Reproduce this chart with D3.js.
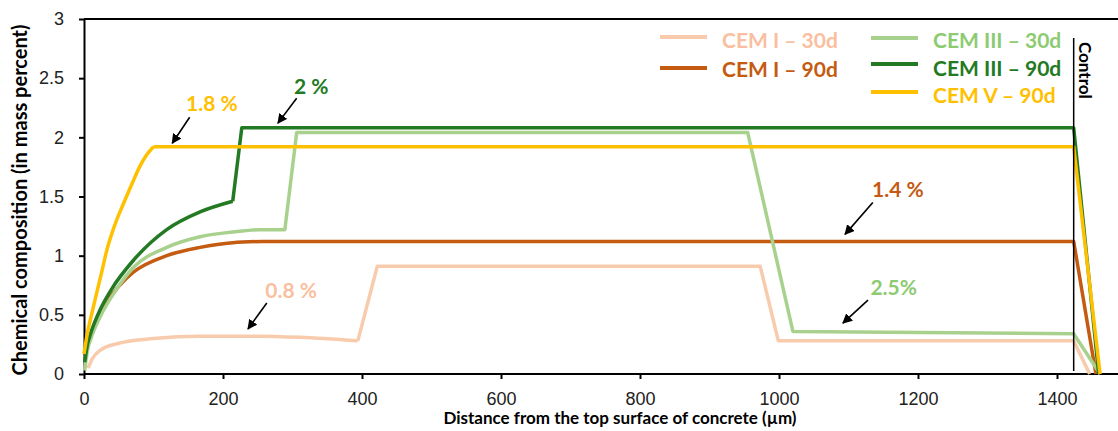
<!DOCTYPE html>
<html>
<head>
<meta charset="utf-8">
<script src="https://cdn.jsdelivr.net/npm/d3@7/dist/d3.min.js"></script>
<style>
  html, body { margin: 0; padding: 0; background: #fff; }
  svg { display: block; }
</style>
</head>
<body>
<svg id="chart" width="1118" height="431"></svg>
<script>
// ---------- DATA ----------
const xTicks = [0, 200, 400, 600, 800, 1000, 1200, 1400];
const yTicks = [0, 0.5, 1, 1.5, 2, 2.5, 3];

const seriesNames = ["CEM I – 30d", "CEM I – 90d", "CEM III – 30d", "CEM III – 90d", "CEM V – 90d"];

// rising (curved) part of each profile: depth (µm) and value
const cem1_30_curveX = [6, 12, 23, 50, 100, 167, 250, 311, 394];
const cem1_30_curveY = [0.05, 0.13, 0.2, 0.26, 0.3, 0.32, 0.32, 0.31, 0.28];
const cem1_30_lineX  = [394, 422, 973, 999, 1424, 1447];
const cem1_30_lineY  = [0.28, 0.91, 0.91, 0.28, 0.28, 0];

const cem1_90_curveX = [2, 8, 15, 23, 50, 71, 119, 167, 214, 256];
const cem1_90_curveY = [0.16, 0.3, 0.42, 0.52, 0.74, 0.86, 1.0, 1.07, 1.11, 1.12];
const cem1_90_lineX  = [256, 1424, 1456];
const cem1_90_lineY  = [1.12, 1.12, 0];

const cem3_30_curveX = [1, 5, 10, 23, 45, 71, 119, 167, 214, 250];
const cem3_30_curveY = [0.03, 0.2, 0.3, 0.48, 0.7, 0.9, 1.07, 1.16, 1.2, 1.22];
const cem3_30_lineX  = [250, 289, 306, 955, 1020, 1424, 1462];
const cem3_30_lineY  = [1.22, 1.22, 2.04, 2.04, 0.36, 0.34, 0];

const cem3_90_curveX = [1, 5, 10, 23, 40, 71, 119, 167, 214];
const cem3_90_curveY = [0.1, 0.25, 0.35, 0.54, 0.72, 0.96, 1.22, 1.37, 1.46];
const cem3_90_lineX  = [214, 227, 1424, 1460];
const cem3_90_lineY  = [1.46, 2.08, 2.08, 0];

const cem5_90_curveX = [0, 5, 10, 16, 25, 33, 45, 59, 70, 80, 90, 100];
const cem5_90_curveY = [0.17, 0.35, 0.48, 0.63, 0.85, 1.05, 1.27, 1.47, 1.62, 1.75, 1.85, 1.92];
const cem5_90_lineX  = [100, 1424, 1462];
const cem5_90_lineY  = [1.92, 1.92, 0];

const controlDepth = 1424;

// annotations: label, text position, arrow start, arrow end (data units)
const annoLabels = ["1.8 %", "2 %", "0.8 %", "1.4 %", "2.5%"];
const annoTextX  = [184, 327, 298, 1171, 1165];
const annoTextY  = [2.29, 2.43, 0.71, 1.56, 0.735];
const annoFromX  = [152, 306, 263, 1135, 1128];
const annoFromY  = [2.17, 2.33, 0.60, 1.45, 0.625];
const annoToX    = [127, 279, 236, 1095, 1092];
const annoToY    = [1.95, 2.12, 0.38, 1.18, 0.43];
const annoSeries = [4, 3, 0, 1, 2];

// ---------- STYLE ----------
const lineColors = ["#F8CBAD", "#C55A11", "#A9D18E", "#237A23", "#FFC000"];
const textColors = ["#F9BFA0", "#C55A11", "#8DCB72", "#237A23", "#FFC000"];
const curveXs = [cem1_30_curveX, cem1_90_curveX, cem3_30_curveX, cem3_90_curveX, cem5_90_curveX];
const curveYs = [cem1_30_curveY, cem1_90_curveY, cem3_30_curveY, cem3_90_curveY, cem5_90_curveY];
const lineXs  = [cem1_30_lineX, cem1_90_lineX, cem3_30_lineX, cem3_90_lineX, cem5_90_lineX];
const lineYs  = [cem1_30_lineY, cem1_90_lineY, cem3_30_lineY, cem3_90_lineY, cem5_90_lineY];

const svg = d3.select("#chart");
const mLeft = 84, mTop = 19, mBottom = 374;
const x = d3.scaleLinear().domain([0, 1500]).range([mLeft, mLeft + 1500 * 0.695]);
const y = d3.scaleLinear().domain([0, 3]).range([mBottom, mTop]);

const tickFont = "'Liberation Sans', Arial, sans-serif";
const boldFont = "Lato, 'Open Sans', sans-serif";

// top border
svg.append("line")
  .attr("x1", x(0)).attr("x2", 1118)
  .attr("y1", y(3)).attr("y2", y(3))
  .attr("stroke", "#000").attr("stroke-width", 2);

// axes
const yAxis = d3.axisLeft(y).tickValues(yTicks).tickFormat(d3.format("")).tickSize(5).tickSizeOuter(0).tickPadding(15);
const xAxis = d3.axisBottom(x).tickValues(xTicks).tickFormat(d3.format("")).tickSize(5).tickSizeOuter(0).tickPadding(13);

const gy = svg.append("g").attr("transform", `translate(${mLeft},0)`).call(yAxis);
const gx = svg.append("g").attr("transform", `translate(0,${mBottom})`).call(xAxis);
[gx, gy].forEach(g => {
  g.select(".domain").attr("stroke", "#000").attr("stroke-width", 2);
  g.selectAll(".tick line").attr("stroke", "#000").attr("stroke-width", 2);
  g.selectAll(".tick text").attr("fill", "#222").style("font-family", tickFont).style("font-size", "18px");
});
gx.select(".domain").attr("d", `M${x(0)},0H1118`);

// series
const curveGen = d3.line().x(d => x(d[0])).y(d => y(d[1])).curve(d3.curveMonotoneX);
const linGen = d3.line().x(d => x(d[0])).y(d => y(d[1]));
const plot = svg.append("g");
seriesNames.forEach((name, i) => {
  const cpts = curveXs[i].map((v, k) => [v, curveYs[i][k]]);
  const lpts = lineXs[i].map((v, k) => [v, lineYs[i][k]]);
  plot.append("path").attr("d", curveGen(cpts) + linGen(lpts))
    .attr("fill", "none").attr("stroke", lineColors[i]).attr("stroke-width", 3.5)
    .attr("stroke-linejoin", "round");
});

// control line
svg.append("line")
  .attr("x1", x(controlDepth)).attr("x2", x(controlDepth))
  .attr("y1", 38).attr("y2", 371)
  .attr("stroke", "#000").attr("stroke-width", 1.5);
svg.append("text")
  .attr("transform", `translate(${x(controlDepth) + 5},42) rotate(90)`)
  .attr("text-anchor", "start")
  .style("font-family", boldFont).style("font-weight", "bold").style("font-size", "17px")
  .attr("fill", "#000")
  .text("Control");

// arrows
const defs = svg.append("defs");
defs.append("marker").attr("id", "arr").attr("viewBox", "0 0 10 10")
  .attr("refX", 9).attr("refY", 5).attr("markerWidth", 10).attr("markerHeight", 10)
  .attr("markerUnits", "userSpaceOnUse").attr("orient", "auto")
  .append("path").attr("d", "M0,0L10,5L0,10z").attr("fill", "#000");

annoLabels.forEach((lab, i) => {
  svg.append("line")
    .attr("x1", x(annoFromX[i])).attr("y1", y(annoFromY[i]))
    .attr("x2", x(annoToX[i])).attr("y2", y(annoToY[i]))
    .attr("stroke", "#000").attr("stroke-width", 1.6)
    .attr("marker-end", "url(#arr)");
  svg.append("text")
    .attr("x", x(annoTextX[i])).attr("y", y(annoTextY[i]))
    .attr("text-anchor", "middle").attr("dy", "0.36em")
    .style("font-family", boldFont).style("font-weight", "bold").style("font-size", "21px")
    .attr("fill", textColors[annoSeries[i]])
    .text(lab);
});

// legend
const legCol = [660, 871];
const legRows = [[0, 0, 37, 40], [1, 0, 68, 69], [2, 1, 38, 40], [3, 1, 64, 68], [4, 1, 92, 95]];
legRows.forEach(([si, c, ly, ty]) => {
  svg.append("line")
    .attr("x1", legCol[c]).attr("x2", legCol[c] + 47)
    .attr("y1", ly).attr("y2", ly)
    .attr("stroke", lineColors[si]).attr("stroke-width", 4);
  svg.append("text")
    .attr("x", legCol[c] + 62).attr("y", ty).attr("dy", "0.36em")
    .style("font-family", boldFont).style("font-weight", "bold").style("font-size", "21px")
    .attr("fill", textColors[si])
    .text(seriesNames[si]);
});

// axis titles
svg.append("text")
  .attr("x", 620).attr("y", 418).attr("text-anchor", "middle").attr("dy", "0.36em")
  .style("font-family", boldFont).style("font-weight", "bold").style("font-size", "17px")
  .attr("fill", "#000")
  .text("Distance from the top surface of concrete (µm)");
svg.append("text")
  .attr("transform", "translate(20,200) rotate(-90)")
  .attr("text-anchor", "middle").attr("dy", "0.36em")
  .style("font-family", boldFont).style("font-weight", "bold").style("font-size", "20px")
  .attr("fill", "#000")
  .text("Chemical composition (in mass percent)");
</script>
</body>
</html>
